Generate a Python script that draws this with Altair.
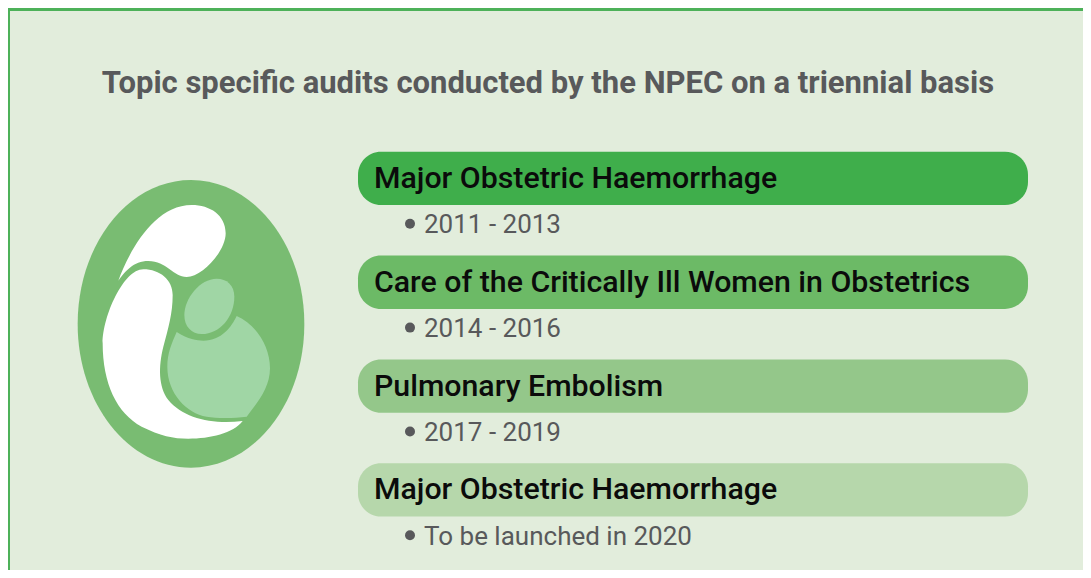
import altair as alt
import pandas as pd

TITLE = "Topic specific audits conducted by the NPEC on a triennial basis"
TOPICS = ["Major Obstetric Haemorrhage", "Care of the Critically Ill Women in Obstetrics",
          "Pulmonary Embolism", "Major Obstetric Haemorrhage"]
PERIODS = ["2011 - 2013", "2014 - 2016", "2017 - 2019", "To be launched in 2020"]
BAR_COLOURS = ["#3FAE4B", "#6CBA66", "#94C78A", "#B6D7AB"]

FONT = "Roboto"
PANEL = "#E2EDDC"
BORDER = "#4DB159"
GREY = "#58595B"
TOPS = [151.8, 255.6, 359.5, 463.3]

# one axis unit is one pixel of the page
sx = alt.Scale(domain=[8, 1083], range=[0, 1075], nice=False, zero=False)
sy = alt.Scale(domain=[8, 570], range=[0, 562], nice=False, zero=False)
X = lambda f: alt.X(f, type="quantitative", scale=sx, axis=None)
Y = lambda f: alt.Y(f, type="quantitative", scale=sy, axis=None)

def box(x0, x1, y0, y1, colour):
    d = pd.DataFrame({"x": [x0], "x2": [x1], "y": [y0], "y2": [y1]})
    return alt.Chart(d).mark_rect(color=colour).encode(x=X("x"), x2="x2", y=Y("y"), y2="y2")

rows = pd.DataFrame({
    "topic": TOPICS, "period": PERIODS, "colour": BAR_COLOURS, "top": TOPS,
    "x0": [358] * 4, "x1": [1028] * 4,
})
rows["bottom"] = rows["top"] + 53.3
rows["tx"] = 374
rows["ty"] = rows["top"] + 36
rows["px"] = 424
rows["py"] = rows["top"] + 81.5
rows["bx"] = 410
rows["by"] = rows["top"] + 72

bars = alt.Chart(rows).mark_rect(cornerRadius=23).encode(
    x=X("x0"), x2="x1", y=Y("top"), y2="bottom",
    color=alt.Color("colour:N", scale=None))
topic_text = alt.Chart(rows).mark_text(
    align="left", baseline="alphabetic", font=FONT, fontSize=30.3, fontWeight=500, color="#0b0b0b"
).encode(x=X("tx"), y=Y("ty"), text="topic:N")
period_text = alt.Chart(rows).mark_text(
    align="left", baseline="alphabetic", font=FONT, fontSize=26, fontWeight=400, color=GREY
).encode(x=X("px"), y=Y("py"), text="period:N")
bullets = alt.Chart(rows).mark_point(filled=True, size=100, opacity=1, color=GREY, shape="circle"
).encode(x=X("bx"), y=Y("by"))

title = alt.Chart(pd.DataFrame({"t": [TITLE], "x": [548], "y": [93]})).mark_text(
    align="center", baseline="alphabetic", font=FONT, fontSize=31, fontWeight=700, color=GREY
).encode(x=X("x"), y=Y("y"), text="t:N")

# Emblem: outlines traced at 3x, anchored at one point
EGG = "M393 30C581 30 733 223 733 462C733 701 581 893 393 893C205 893 53 701 53 462C53 223 205 30 393 30Z"
VEIL = ("M175 332C205 250 280 105 395 105C450 105 497 135 497 190C497 245 425 321 380 321"
        "C340 321 320 273 265 273C220 273 195 305 175 332Z")
BODY = ("M250 298C190 298 128 440 128 520C128 640 170 730 245 770C300 797 340 806 385 806"
        "C450 806 520 790 548 753C460 765 370 745 325 690C295 650 295 590 310 530"
        "C325 475 338 430 338 375C338 330 300 298 250 298Z")
HEAD = "M470 326C420 326 373 385 373 435C373 470 395 492 425 492C480 492 523 440 523 380C523 345 500 326 470 326Z"
BABY = ("M350 486C385 508 410 512 430 512C485 512 515 470 530 438C590 465 630 530 630 595"
        "C630 655 590 700 560 740C520 745 470 745 440 740C380 730 322 670 322 590C322 550 335 520 350 486Z")

anchor = pd.DataFrame({"x": [60], "y": [170]})
def emblem(path, colour):
    return alt.Chart(anchor).mark_point(shape=path, size=4 / 9, filled=True, opacity=1, color=colour,
                                        strokeWidth=0).encode(x=X("x"), y=Y("y"))

chart = alt.layer(
    box(8, 1083, 8, 570, PANEL),
    box(8, 1083, 8, 11, BORDER),
    box(8, 10, 8, 570, BORDER),
    title,
    emblem(EGG, "#79BC72"), emblem(VEIL, "#FFFFFF"), emblem(BODY, "#FFFFFF"),
    emblem(HEAD, "#A0D6A5"), emblem(BABY, "#A0D6A5"),
    bars, topic_text, bullets, period_text,
).properties(width=1075, height=562, padding=0, autosize=alt.AutoSizeParams(type="none"),
             background="#FFFFFF").configure_view(stroke=None)

chart.save("out.html", embed_options={"renderer": "svg", "actions": False})
